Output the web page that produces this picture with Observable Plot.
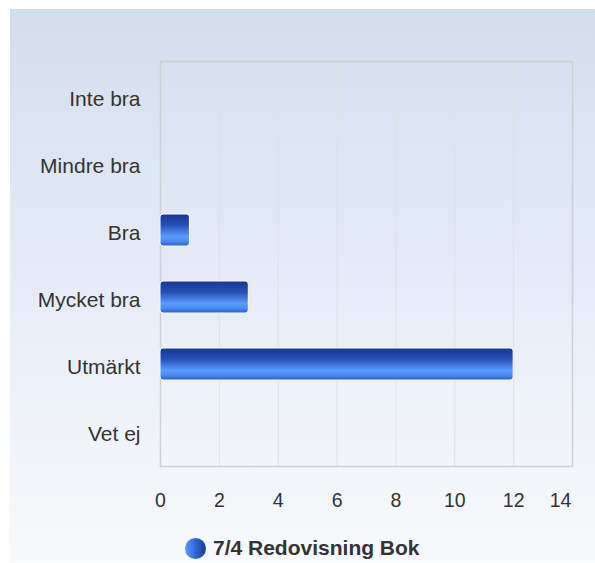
<!DOCTYPE html>
<html>
<head>
<meta charset="utf-8">
<script src="https://cdn.jsdelivr.net/npm/d3@7"></script>
<script src="https://cdn.jsdelivr.net/npm/@observablehq/plot@0.6"></script>
<style>
  html, body { margin: 0; padding: 0; background: #ffffff; }
  #wrap { position: relative; width: 595px; height: 563px; overflow: hidden; font-family: "Liberation Sans", Arial, sans-serif; }
  #bg { position: absolute; left: 10px; top: 9px; right: 0; bottom: 0; background: linear-gradient(to bottom, #d2deef 0%, #e6ecf6 50%, #f8f9fc 100%); }
  #chart { position: absolute; left: 0; top: 0; }
  #legend { position: absolute; left: 185px; top: 537px; height: 22px; display: flex; align-items: center; gap: 7px; }
  #legend .dot { width: 21px; height: 21px; border-radius: 50%; background: linear-gradient(to right, #5a9cff 0%, #2f68d6 50%, #17399a 100%); }
  #legend .lbl { font-weight: bold; font-size: 21px; line-height: 22px; color: #333333; white-space: nowrap; }
</style>
</head>
<body>
<div id="wrap">
  <div id="bg"></div>
  <div id="chart"></div>
  <div id="legend"><span class="dot"></span><span class="lbl" id="lbl"></span></div>
</div>
<script>
const categories = ["Inte bra", "Mindre bra", "Bra", "Mycket bra", "Utmärkt", "Vet ej"];
const values = [0, 0, 1, 3, 12, 0];
const xTicks = [0, 2, 4, 6, 8, 10, 12, 14];
const seriesName = "7/4 Redovisning Bok";

const data = categories.map((c, i) => ({category: c, value: values[i]}));
const lastTick = xTicks[xTicks.length - 1];

const svg = Plot.plot({
  width: 595,
  height: 520,
  marginLeft: 160,
  marginRight: 23,
  marginTop: 61,
  marginBottom: 54,
  style: {background: "transparent", fontFamily: "'Liberation Sans', Arial, sans-serif", color: "#333333", overflow: "visible"},
  x: {domain: [0, lastTick], label: null},
  y: {domain: categories, paddingInner: 0.52, paddingOuter: 0.26, label: null},
  marks: [
    Plot.gridX(xTicks, {stroke: "#dde1e6", strokeOpacity: 1, strokeWidth: 1}),
    Plot.frame({stroke: "#cdd0d4", strokeWidth: 1.5}),
    Plot.barX(data, {filter: d => d.value > 0, x: "value", y: "category", fill: "url(#barGrad)", stroke: "#ffffff", strokeWidth: 1, rx: 3}),
    Plot.axisX(xTicks.slice(0, -1), {tickSize: 0, tickPadding: 27, fontSize: 19.5, label: null}),
    Plot.axisX([lastTick], {tickSize: 0, tickPadding: 27, fontSize: 19.5, label: null, dx: -12}),
    Plot.axisY(categories, {tickSize: 0, tickPadding: 20, fontSize: 21, label: null, dy: 2.5})
  ]
});

d3.select(svg).insert("defs", ":first-child").html(`
  <linearGradient id="barGrad" x1="0" y1="0" x2="0" y2="1">
    <stop offset="0%" stop-color="#15378f"/>
    <stop offset="35%" stop-color="#2650b8"/>
    <stop offset="70%" stop-color="#5a9cff"/>
    <stop offset="85%" stop-color="#4a8af2"/>
    <stop offset="100%" stop-color="#2660c8"/>
  </linearGradient>`);

document.getElementById("chart").appendChild(svg);
document.getElementById("lbl").textContent = seriesName;
</script>
</body>
</html>
